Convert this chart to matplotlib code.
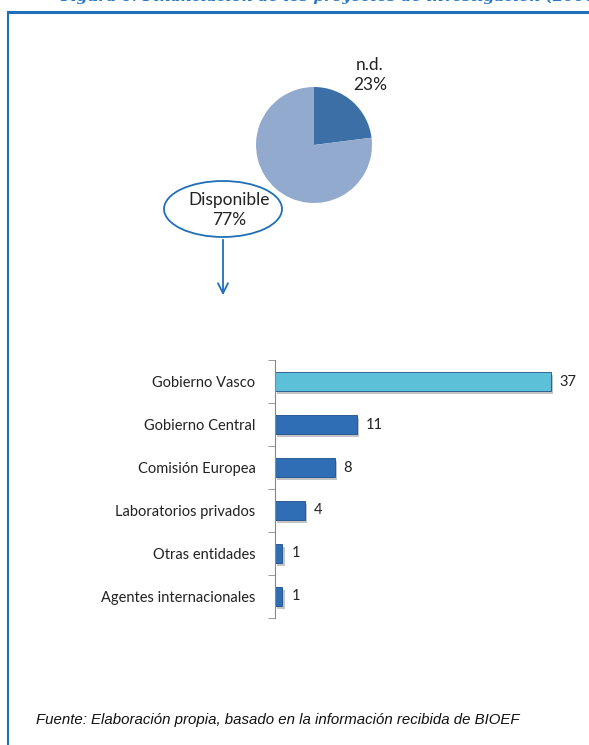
import numpy as np
import matplotlib.pyplot as plt
from matplotlib.patches import Ellipse

# datos
pie_labels = ["n.d.", "Disponible"]
pie_values = [23, 77]
pie_colors = ["#3B6FA6", "#93AACF"]

categorias = ["Gobierno Vasco", "Gobierno Central", "Comisión Europea",
              "Laboratorios privados", "Otras entidades", "Agentes internacionales"]
proyectos = [37, 11, 8, 4, 1, 1]
bar_colors = ["#5BC0D8", "#2F6DB5", "#2F6DB5", "#2F6DB5", "#2F6DB5", "#2F6DB5"]

W, H = 589, 745
fig = plt.figure(figsize=(W / 100, H / 100), dpi=100)
fig.patch.set_facecolor("white")

# capa de fondo en pixeles
bg = fig.add_axes([0, 0, 1, 1])
bg.set_xlim(0, W)
bg.set_ylim(H, 0)
bg.axis("off")

# marco azul
bg.plot([8, W], [12, 12], color="#1F70B8", lw=2.2)
bg.plot([8, 8], [12, H], color="#1F70B8", lw=1.5)
# titulo cortado arriba
bg.text(60, 1, "Figura 6: Financiación de los proyectos de investigación (2006",
        family="DejaVu Serif", style="italic", weight="bold", color="#2A78C2",
        fontsize=11, va="baseline", ha="left")

# tarta
pie_ax = fig.add_axes([(314 - 58) / W, 1 - (145 + 58) / H, 116 / W, 116 / H])
pie_ax.pie(pie_values, colors=pie_colors, startangle=90, counterclock=False,
           radius=1)
pie_ax.set_xlim(-1, 1)
pie_ax.set_ylim(-1, 1)
pie_ax.set_aspect("equal")

bg.text(370, 75, f"{pie_labels[0]}\n{pie_values[0]}%", ha="center", va="center",
        fontsize=12.5, family="Lato", color="#222222", linespacing=1.25)
bg.add_patch(Ellipse((223, 209), 118, 56, fill=False, ec="#1F70B8", lw=1.3))
bg.text(229, 210, f"{pie_labels[1]}\n{pie_values[1]}%", ha="center", va="center",
        fontsize=12.5, family="Lato", color="#222222", linespacing=1.25)
bg.annotate("", xy=(223, 298), xytext=(223, 237),
            arrowprops=dict(arrowstyle="->", color="#1F70B8", lw=1.3,
                            mutation_scale=18))

# barras
top, bottom = 360.5, 617.5
ax = fig.add_axes([275 / W, 1 - bottom / H, 298 / W, (bottom - top) / H])
y = np.arange(len(categorias))
# sombra
ax.barh(y + 0.07, proyectos, left=0.3, height=0.44, color="#c4c4c4", zorder=1)
ax.barh(y, proyectos, height=0.44, color=bar_colors, edgecolor="#1d4f8a",
        lw=0.6, zorder=2)
for yi, v in zip(y, proyectos):
    ax.text(v + 1.2, yi, str(v), va="center", ha="left", fontsize=10.5,
            family="Lato", color="#222222")
ax.set_xlim(0, 40)
ax.set_ylim(len(categorias) - 0.5, -0.5)
ax.set_yticks(y)
ax.set_yticklabels(categorias, fontsize=10.5, family="Lato", color="#222222")
ax.set_yticks(np.arange(-0.5, len(categorias)), minor=True)
ax.tick_params(axis="y", which="major", length=0, pad=14)
ax.tick_params(axis="y", which="minor", length=5, color="#888888")
ax.set_xticks([])
for s in ["top", "right", "bottom"]:
    ax.spines[s].set_visible(False)
ax.spines["left"].set_color("#888888")

bg.text(36, 720, "Fuente: Elaboración propia, basado en la información recibida de BIOEF",
        family="Liberation Sans", style="italic", fontsize=10.8, color="#111111",
        va="center", ha="left")

plt.savefig("out.png", dpi=100)
